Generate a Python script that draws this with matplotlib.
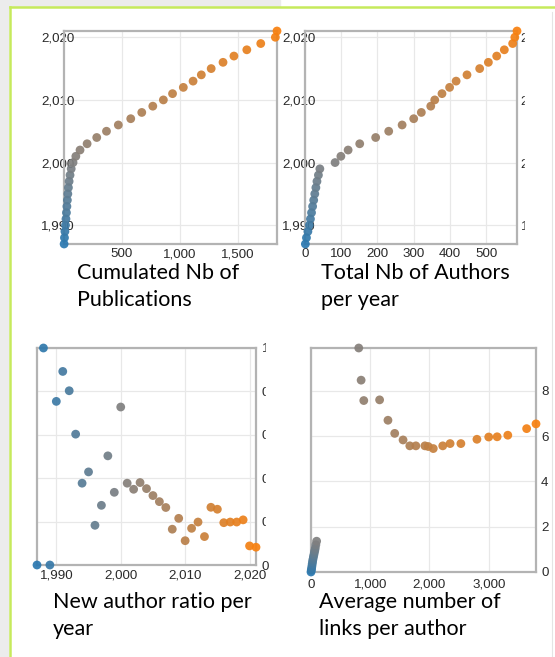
import numpy as np
import matplotlib.pyplot as plt
from matplotlib.colors import LinearSegmentedColormap
from matplotlib.patches import Rectangle
from matplotlib.lines import Line2D

# data
years = list(range(1987, 2022))

cum_pubs = [1, 4, 8, 13, 17, 21, 25, 29, 33, 38,
            44, 52, 62, 78, 102, 138, 199, 282, 366, 468,
            575, 670, 765, 856, 935, 1028, 1112, 1183, 1268, 1370,
            1464, 1575, 1695, 1821, 1835]

total_authors = [1, 4, 8, 12, 15, 18, 21, 24, 27, 30,
                 33, 37, 41, 83, 99, 119, 151, 195, 231, 268,
                 300, 321, 347, 358, 378, 399, 417, 447, 482, 506,
                 529, 550, 573, 579, 585]

new_ratio = [0.0, 1.0, 0.0, 0.754, 0.892, 0.803, 0.603, 0.377, 0.429, 0.183,
             0.275, 0.503, 0.335, 0.728, 0.377, 0.349, 0.38, 0.352, 0.32, 0.292,
             0.265, 0.165, 0.215, 0.112, 0.169, 0.198, 0.131, 0.266, 0.257, 0.195,
             0.198, 0.198, 0.208, 0.088, 0.082]

links_x = [0, 5, 10, 15, 20, 26, 32, 40, 48, 56, 64, 72, 82, 95,
           806, 846, 891, 1158, 1299, 1413, 1554, 1668, 1770, 1923, 1980,
           2064, 2224, 2348, 2530, 2801, 3000, 3142, 3322, 3640, 3798]
links_y = [0, 0.08, 0.15, 0.25, 0.35, 0.45, 0.55, 0.65, 0.75, 0.85, 0.95, 1.05, 1.2, 1.36,
           9.89, 8.47, 7.57, 7.6, 6.7, 6.12, 5.83, 5.57, 5.57, 5.57, 5.54,
           5.45, 5.57, 5.67, 5.67, 5.86, 5.96, 5.97, 6.04, 6.33, 6.54]

captions = [["Cumulated Nb of", "Publications"],
            ["Total Nb of Authors", "per year"],
            ["New author ratio per", "year"],
            ["Average number of", "links per author"]]

W, H = 555, 657
fig = plt.figure(figsize=(W / 100, H / 100), dpi=100)
fig.patch.set_facecolor('white')

def box(l, t, r, b):
    return [l / W, 1 - b / H, (r - l) / W, (b - t) / H]

cmap = LinearSegmentedColormap.from_list(
    'yr', [(0, '#2a78b0'), (13 / 34, '#7f7f7f'), (1, '#f8800f')])
cols = cmap((np.array(years) - 1987) / 34)

tick_font = dict(family='Liberation Sans', size=9.6)
comma = plt.FuncFormatter(lambda v, p: f"{v:,.0f}")

def style(ax):
    ax.set_axisbelow(True)
    ax.grid(True, color='#e8e8e8', lw=0.9)
    for s in ax.spines.values():
        s.set_color('#b3b3b3')
        s.set_linewidth(1.6)
    ax.tick_params(length=0, labelcolor='#2a2a2a')
    for lab in ax.get_xticklabels() + ax.get_yticklabels():
        lab.set_fontfamily(tick_font['family'])
        lab.set_fontsize(tick_font['size'])

def dots(ax, x, y):
    ax.scatter(x, y, s=40, c=cols, alpha=0.92, edgecolors='none',
               zorder=3, clip_on=False)

# panel 1
ax1 = fig.add_axes(box(64, 31, 277, 244))
dots(ax1, cum_pubs, years)
ax1.set_xlim(0, max(cum_pubs))
ax1.set_ylim(1987, 2021)
ax1.set_xticks([500, 1000, 1500])
ax1.set_yticks([1990, 2000, 2010, 2020])
ax1.xaxis.set_major_formatter(comma)
ax1.yaxis.set_major_formatter(comma)
style(ax1)
ax1.tick_params(axis='y', pad=-7.5)
ax1.tick_params(axis='x', pad=3)

# panel 2
ax2 = fig.add_axes(box(305, 31, 517, 244))
dots(ax2, total_authors, years)
ax2.set_xlim(0, max(total_authors))
ax2.set_ylim(1987, 2021)
ax2.set_xticks([0, 100, 200, 300, 400, 500])
ax2.set_yticks([1990, 2000, 2010, 2020])
ax2.yaxis.set_major_formatter(comma)
style(ax2)
ax2.tick_params(axis='y', pad=-7.5)
ax2.tick_params(axis='x', pad=3)
sec2 = ax2.secondary_yaxis('right')
sec2.set_yticks([1990, 2000, 2010, 2020])
sec2.yaxis.set_major_formatter(comma)
sec2.spines['right'].set_visible(False)
sec2.tick_params(length=0, pad=2.5, labelcolor='#2a2a2a')
for lab in sec2.get_yticklabels():
    lab.set_fontfamily(tick_font['family'])
    lab.set_fontsize(tick_font['size'])

# panel 3
ax3 = fig.add_axes(box(37, 348, 256, 565))
dots(ax3, years, new_ratio)
ax3.set_xlim(1987, 2021)
ax3.set_ylim(0, 1)
ax3.set_xticks([1990, 2000, 2010, 2020])
ax3.set_yticks([0, 0.2, 0.4, 0.6, 0.8, 1])
ax3.xaxis.set_major_formatter(comma)
ax3.yaxis.set_major_formatter(plt.FuncFormatter(lambda v, p: f"{v:g}"))
ax3.yaxis.tick_right()
style(ax3)
ax3.tick_params(axis='y', pad=4.3)
ax3.tick_params(axis='x', pad=3.5)

# panel 4
ax4 = fig.add_axes(box(311, 348, 536, 572))
dots(ax4, links_x, links_y)
ax4.set_xlim(0, max(links_x))
ax4.set_ylim(0, max(links_y))
ax4.set_xticks([0, 1000, 2000, 3000])
ax4.set_yticks([0, 2, 4, 6, 8])
ax4.xaxis.set_major_formatter(comma)
ax4.yaxis.tick_right()
style(ax4)
ax4.tick_params(axis='y', pad=3.6)
ax4.tick_params(axis='x', pad=5)

# the screenshot crops some labels on the right of panels 2 and 3
fig.add_artist(Rectangle((525 / W, 1 - 250 / H), 30 / W, 236 / H,
                         transform=fig.transFigure, color='white', zorder=10))
fig.add_artist(Rectangle((265.5 / W, 1 - 560 / H), 34 / W, 222 / H,
                         transform=fig.transFigure, color='white', zorder=10))

# captions
cap_pos = [(77, 279), (321, 279), (53, 608), (319, 608)]
for (x, y), lines in zip(cap_pos, captions):
    for i, line in enumerate(lines):
        fig.text(x / W, 1 - (y + 26.7 * i) / H, line, family='Lato',
                 fontsize=15.5, va='baseline', ha='left', color='black')

# slide frame
fig.add_artist(Rectangle((0, 0), 8 / W, 1, transform=fig.transFigure,
                         color='#ececec', zorder=0))
fig.add_artist(Rectangle((0, 1 - 6 / H), 280 / W, 6 / H, transform=fig.transFigure,
                         color='#ececec', zorder=0))
fig.add_artist(Line2D([9.5 / W, 9.5 / W], [0, 1 - 7 / H], transform=fig.transFigure,
                      color='#c6ea5c', lw=1.8, zorder=11))
fig.add_artist(Line2D([9.5 / W, 1], [1 - 7 / H, 1 - 7 / H], transform=fig.transFigure,
                      color='#c6ea5c', lw=1.8, zorder=11))
fig.add_artist(Line2D([552 / W, 552 / W], [0, 1 - 12 / H], transform=fig.transFigure,
                      color='#e4e4e4', lw=0.8, zorder=11))

fig.savefig('out.png', dpi=100)
